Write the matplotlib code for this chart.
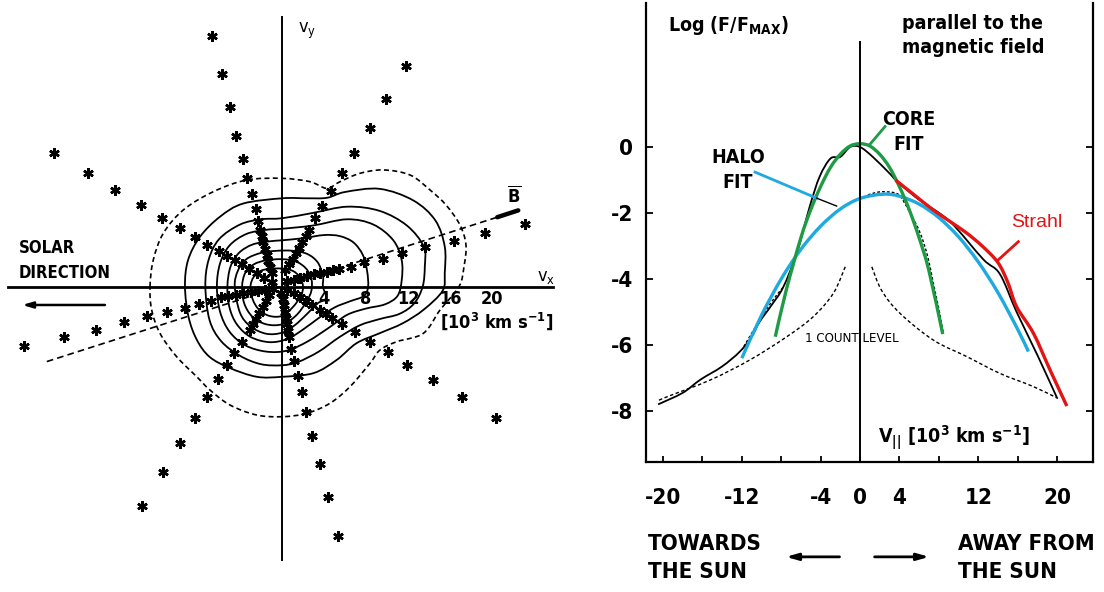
import numpy as np
import matplotlib
matplotlib.use("Agg")
import matplotlib.pyplot as plt
from matplotlib.path import Path
from matplotlib.patches import PathPatch

plt.rcParams["font.family"] = ["DejaVu Sans"]
plt.rcParams["font.stretch"] = "condensed"
plt.rcParams["font.weight"] = "bold"

# ---------------- left panel: velocity-space contours (10^3 km/s) ----------------
ray_a_x = [-6.62, -5.70, -4.91, -4.34, -3.76, -3.32, -2.88, -2.50, -2.27, -2.1, -1.95, -1.8, -1.65, -1.45, -1.3, -1.15, -1.0]
ray_a_y = [23.89, 20.21, 17.07, 14.36, 12.17, 10.36, 8.78, 7.35, 6.27, 5.4, 4.8, 4.2, 3.6, 3.0, 2.4, 1.85, 1.3]
ray_b_x = [11.85, 9.88, 8.34, 6.89, 5.70, 4.70, 3.82, 3.14, 2.60, 2.25, 1.95, 1.65, 1.35, 1.0, 0.65, 0.3]
ray_b_y = [21.03, 17.83, 15.12, 12.74, 10.84, 9.12, 7.70, 6.50, 5.38, 4.8, 4.25, 3.7, 3.15, 2.6, 2.1, 1.6]
ray_c_x = [-21.75, -18.52, -15.87, -13.42, -11.45, -9.75, -8.32, -7.13, -6.01, -5.2, -4.5, -3.8, -3.1, -2.4, -1.7, -1.0]
ray_c_y = [12.74, 10.84, 9.19, 7.76, 6.50, 5.54, 4.69, 3.95, 3.41, 2.95, 2.55, 2.1, 1.7, 1.25, 0.85, 0.45]
ray_d_x = [23.12, 19.37, 16.37, 13.62, 11.41, 9.61, 7.84, 6.54, 5.46, 4.9, 4.25, 3.6, 3.0, 2.35, 1.7, 1.1, 0.5]
ray_d_y = [6.0, 5.1, 4.36, 3.78, 3.16, 2.65, 2.3, 1.89, 1.70, 1.55, 1.4, 1.28, 1.15, 1.0, 0.8, 0.65, 0.5]
ray_e_x = [-24.54, -20.8, -17.74, -15.06, -12.81, -10.94, -9.28, -7.91, -6.79, -5.77, -5.1, -4.4, -3.7, -3.0, -2.3, -1.6, -0.9]
ray_e_y = [-5.69, -4.83, -4.14, -3.41, -2.78, -2.43, -2.02, -1.69, -1.38, -1.03, -0.9, -0.77, -0.65, -0.52, -0.42, -0.32, -0.2]
ray_f_x = [-13.32, -11.38, -9.68, -8.25, -7.13, -6.10, -5.26, -4.58, -3.83, -3.05, -2.75, -2.45, -2.15, -1.85, -1.55, -1.25]
ray_f_y = [-20.9, -17.64, -14.94, -12.5, -10.5, -8.81, -7.48, -6.31, -5.26, -4.14, -3.6, -3.05, -2.5, -1.95, -1.4, -0.85]
ray_g_x = [5.29, 4.37, 3.66, 2.90, 2.32, 1.89, 1.48, 1.10, 0.87, 0.63, 0.55, 0.45, 0.35, 0.25, 0.15, 0.05, -0.05]
ray_g_y = [-23.76, -20.02, -16.9, -14.21, -11.98, -10.08, -8.5, -7.1, -5.95, -4.78, -4.2, -3.6, -3.0, -2.4, -1.8, -1.2, -0.6]
ray_h_x = [20.42, 17.12, 14.37, 11.91, 10.05, 8.34, 6.91, 5.72, 4.77, 4.2, 3.6, 2.9, 2.3, 1.7, 1.1, 0.5]
ray_h_y = [-12.5, -10.55, -8.9, -7.48, -6.27, -5.26, -4.36, -3.6, -3.03, -2.6, -2.2, -1.8, -1.4, -1.0, -0.6, -0.3]

# outer (one count) contour, dashed
cd_x = [-12.57, -12.26, -11.3, -9.4, -6.54, -3.36, 0.0, 2.67, 4.26, 5.52, 7.43, 9.65, 12.19, 14.1, 15.62, 16.95,
        17.52, 17.33, 16.86, 15.05, 13.46, 10.92, 9.33, 8.38, 6.48, 4.57, 2.35, 0.0, -2.41, -4.95, -6.86, -8.12,
        -10.03, -11.62, -12.41]
cd_y = [-0.02, 2.52, 5.07, 7.29, 9.03, 10.14, 10.3, 9.98, 9.35, 9.98, 10.78, 11.1, 10.62, 9.19, 7.76, 5.86,
        3.95, 1.89, 0.0, -2.24, -4.46, -5.26, -6.05, -7.31, -9.54, -11.12, -12.08, -12.4, -12.24, -11.29, -9.86,
        -8.59, -6.69, -4.46, -2.24]
# solid contours, outer to inner
c1_x = [-9.24, -8.95, -7.8, -5.9, -3.7, 0.0, 2.4, 4.3, 6.0, 9.3, 12.5, 14.6, 15.5, 15.5, 15.3, 13.5, 11.5, 9.3, 7.1, 5.2, 3.0, 0.0, -2.4, -5.0, -6.9, -8.1, -8.9]
c1_y = [0.0, 2.5, 4.75, 6.65, 7.9, 8.4, 8.4, 8.45, 9.0, 9.3, 8.2, 6.3, 3.8, 1.3, -0.4, -2.2, -3.5, -4.45, -5.4, -7.0, -8.25, -8.6, -8.6, -7.75, -6.7, -5.1, -2.9]
c2_x = [-7.3, -7.0, -6.0, -4.0, -2.0, 0.0, 2.9, 6.2, 9.3, 11.9, 13.5, 13.6, 13.4, 12.6, 11.2, 9.3, 7.4, 5.5, 3.5, 1.5, 0.0, -2.0, -4.0, -5.8, -6.9]
c2_y = [0.0, 2.5, 4.5, 5.9, 6.4, 6.5, 7.0, 7.6, 7.2, 5.8, 3.8, 1.9, 0.0, -1.6, -2.6, -3.1, -3.7, -4.8, -6.2, -7.2, -7.5, -7.4, -6.6, -5.2, -3.2]
c3_x = [-6.2, -5.9, -5.0, -3.4, -1.5, 0.0, 2.9, 6.2, 8.7, 10.6, 11.4, 11.4, 11.0, 9.8, 8.0, 6.2, 4.5, 2.5, 0.5, -1.5, -3.5, -5.0, -5.9]
c3_y = [0.0, 2.2, 3.9, 5.0, 5.4, 5.5, 5.8, 6.4, 5.9, 4.4, 2.5, 0.6, -0.9, -1.7, -2.1, -2.7, -3.9, -5.2, -6.1, -6.2, -5.6, -4.3, -2.4]
c4_x = [-5.2, -4.9, -4.1, -2.8, -1.2, 0.0, 2.0, 4.0, 5.5, 6.8, 7.7, 8.1, 8.2, 7.8, 6.5, 5.0, 3.5, 2.0, 0.5, -1.2, -3.0, -4.3, -5.0]
c4_y = [0.0, 1.9, 3.2, 4.0, 4.3, 4.4, 4.6, 4.9, 4.8, 4.2, 3.0, 1.5, 0.0, -0.9, -1.4, -2.0, -3.0, -4.1, -5.0, -5.3, -4.8, -3.6, -2.0]
c5_x = [-4.5, -4.2, -3.4, -2.0, -0.5, 1.0, 2.4, 3.4, 3.9, 3.9, 4.2, 3.4, 2.4, 1.2, 0.0, -1.5, -3.0, -4.0]
c5_y = [0.0, 1.5, 2.6, 3.2, 3.4, 3.4, 3.1, 2.3, 1.0, 0.0, -1.1, -1.6, -2.6, -3.7, -4.4, -4.5, -3.8, -2.5]
c6_x = [-3.8, -3.5, -2.7, -1.5, 0.0, 1.3, 2.3, 2.8, 2.8, 2.3, 1.3, 0.0, -1.5, -2.8, -3.6]
c6_y = [0.0, 1.3, 2.1, 2.5, 2.6, 2.4, 1.7, 0.7, -0.4, -1.5, -2.8, -3.6, -3.6, -2.9, -1.6]
c7_x = [-3.0, -2.7, -2.0, -1.0, 0.0, 1.0, 1.7, 2.0, 1.8, 1.0, 0.0, -1.2, -2.2, -2.8]
c7_y = [0.0, 0.9, 1.5, 1.7, 1.7, 1.5, 0.9, 0.0, -0.9, -2.0, -2.8, -2.8, -2.2, -1.2]

vx_ticks = [4, 8, 12, 16, 20]
b_line_x = [-22.4, 20.5]
b_line_y = [-7.15, 6.6]

# ---------------- right panel: cut parallel to B ----------------
meas_v = [-20.5, -18.0, -16.2, -14.0, -12.2, -11.0, -10.2, -9.0, -7.8, -6.4, -5.1, -4.1, -3.0, -2.0, -1.0, 0.0, 1.3, 3.0, 3.8, 6.0, 9.1, 12.5, 14.2, 15.9, 18.0, 20.0]
meas_f = [-7.8, -7.45, -7.05, -6.65, -6.2, -5.75, -5.3, -4.8, -4.25, -3.2, -1.8, -0.9, -0.35, -0.3, 0.0, 0.0, -0.3, -0.8, -1.05, -1.6, -2.25, -3.4, -3.85, -5.0, -6.3, -7.6]
meas2_v = [0.8, 2.0, 3.4, 4.1, 5.0, 6.1, 6.9, 7.44, 8.0, 8.46]
meas2_f = [-1.45, -1.36, -1.38, -1.5, -1.95, -2.6, -3.35, -4.13, -4.9, -5.65]
meas3_v = [-11.8, -10.3, -9.0, -7.8]
meas3_f = [-6.05, -5.3, -4.7, -4.25]
count_left_v = [-1.5, -2.7, -4.74, -7.44, -11.17, -15.2, -19.6, -20.5]
count_left_f = [-3.63, -4.43, -5.14, -5.75, -6.45, -7.06, -7.57, -7.69]
count_right_v = [1.2, 2.2, 4.06, 7.44, 10.83, 14.2, 17.6, 20.1]
count_right_f = [-3.63, -4.35, -5.04, -5.85, -6.35, -6.86, -7.26, -7.62]
core_v = [-8.6, -7.5, -6.0, -5.0, -4.0, -3.0, -2.0, -1.0, 0.0, 1.0, 2.0, 3.0, 4.0, 5.0, 6.0, 7.0, 8.4]
core_f = [-5.75, -4.35, -2.75, -1.9, -1.2, -0.62, -0.22, 0.03, 0.1, 0.03, -0.22, -0.62, -1.2, -1.9, -2.75, -3.75, -5.67]
halo_v = [-12.0, -10.0, -8.0, -6.0, -4.0, -2.0, 0.0, 2.3, 4.0, 6.0, 8.0, 10.0, 12.0, 14.0, 16.0, 17.1]
halo_f = [-6.4, -5.1, -4.0, -3.1, -2.4, -1.88, -1.56, -1.43, -1.49, -1.73, -2.14, -2.72, -3.48, -4.41, -5.52, -6.2]
strahl_v = [3.6, 5.5, 7.4, 9.1, 10.8, 12.4, 14.0, 15.0, 15.9, 17.6, 19.3, 21.0]
strahl_f = [-1.0, -1.45, -1.9, -2.25, -2.6, -3.0, -3.5, -4.1, -4.84, -5.64, -6.76, -7.85]

v_ticks = [-20, -16, -12, -8, -4, 0, 4, 8, 12, 16, 20]
v_ticklabels = ["-20", "", "-12", "", "-4", "0", "4", "", "12", "", "20"]
f_ticks = [0, -2, -4, -6, -8]
f_ticklabels = ["0", "-2", "-4", "-6", "-8"]

GREEN = "#1f9a45"
BLUE = "#1ea9e1"
RED = "#e31414"


def curve(ax, xs, ys, closed=False, **kw):
    # smooth Bezier through the read points (Catmull-Rom control points)
    p = np.column_stack([xs, ys]).astype(float)
    if closed:
        pts = np.vstack([p[-1], p, p[0], p[1]])
    else:
        pts = np.vstack([p[0], p, p[-1]])
    verts = [pts[1]]
    codes = [Path.MOVETO]
    for i in range(1, len(pts) - 2):
        p0, p1, p2, p3 = pts[i - 1], pts[i], pts[i + 1], pts[i + 2]
        verts += [p1 + (p2 - p0) / 6, p2 - (p3 - p1) / 6, p2]
        codes += [Path.CURVE4] * 3
    ax.add_patch(PathPatch(Path(verts, codes), fill=False, **kw))


fig = plt.figure(figsize=(11.04, 5.92), dpi=100)

# left panel, 10.5 px per unit, origin at (282, 286.5) px
ax1 = fig.add_axes([0, 0, 560 / 1104, 1])
ax1.set_xlim(-282 / 10.5, (560 - 282) / 10.5)
ax1.set_ylim(-(592 - 286.5) / 10.5, 286.5 / 10.5)
ax1.axis("off")

ax1.plot([-26.1, 25.8], [0, 0], color="black", lw=2.0)
ax1.plot([0, 0], [-26.0, 25.7], color="black", lw=1.4)
ax1.plot(b_line_x, b_line_y, color="black", lw=1.2, ls=(0, (4, 2.5)))
ax1.plot([20.5, 22.5], [6.6, 7.25], color="black", lw=3.2, solid_capstyle="round")

curve(ax1, cd_x, cd_y, closed=True, color="black", lw=1.2, ls=(0, (3, 2)))
for cx, cy in [(c1_x, c1_y), (c2_x, c2_y), (c3_x, c3_y), (c4_x, c4_y),
               (c5_x, c5_y), (c6_x, c6_y), (c7_x, c7_y)]:
    curve(ax1, cx, cy, closed=True, color="black", lw=1.3)

for rx, ry in [(ray_a_x, ray_a_y), (ray_b_x, ray_b_y), (ray_c_x, ray_c_y), (ray_d_x, ray_d_y),
               (ray_e_x, ray_e_y), (ray_f_x, ray_f_y), (ray_g_x, ray_g_y), (ray_h_x, ray_h_y)]:
    ax1.plot(rx, ry, ls="none", marker=(6, 2, 0), ms=7.5, mew=1.8, color="black")

for t in vx_ticks:
    ax1.text(t, -1.15, str(t), ha="center", va="center", fontsize=13)
ax1.text(1.5, 24.3, r"v$_\mathregular{y}$", fontsize=13, ha="left", va="center", weight="normal")
ax1.text(24.3, 0.95, r"v$_\mathregular{x}$", fontsize=13, ha="left", va="center", weight="normal")
ax1.text(22.1, 8.6, r"$\overline{\mathbf{B}}$", fontsize=13, ha="center", va="center")
ax1.text(20.4, -3.35, r"[10$^\mathbf{3}$ km s$^\mathbf{-1}$]", fontsize=13, ha="center", va="center")
ax1.text(-25.1, 3.64, "SOLAR", fontsize=12, ha="left", va="center")
ax1.text(-25.1, 1.26, "DIRECTION", fontsize=12, ha="left", va="center")
ax1.annotate("", xy=(-25.0, -1.76), xytext=(-16.6, -1.76),
             arrowprops=dict(arrowstyle="-|>,head_length=0.6,head_width=0.18", color="black", lw=1.8))

# right panel
ax2 = fig.add_axes([645.7 / 1104, (592 - 461.7) / 592, (1092.7 - 645.7) / 1104, (461.7 - 3.3) / 592])
ax2.set_xlim((645.7 - 860) / 9.85, (1092.7 - 860) / 9.85)
ax2.set_ylim((147 - 461.7) / 33, (147 - 3.3) / 33)
ax2.patch.set_alpha(0)
ax2.spines["top"].set_visible(False)
for s in ["left", "right", "bottom"]:
    ax2.spines[s].set_linewidth(1.6)
ax2.set_xticks(v_ticks)
ax2.set_xticklabels(v_ticklabels)
ax2.set_yticks(f_ticks)
ax2.set_yticklabels(f_ticklabels)
ax2.tick_params(axis="x", direction="in", length=4, width=1.3, pad=19, labelsize=16)
ax2.tick_params(axis="y", direction="in", length=5, width=1.3, pad=9, labelsize=16, left=True, right=True)

ax2.plot([0, 0], [3.17, -9.54], color="black", lw=1.4)
curve(ax2, count_left_v, count_left_f, color="black", lw=1.0, ls=(0, (2.5, 1.8)))
curve(ax2, count_right_v, count_right_f, color="black", lw=1.0, ls=(0, (2.5, 1.8)))
curve(ax2, meas2_v, meas2_f, color="black", lw=1.0, ls=(0, (2, 1.5)))
curve(ax2, meas3_v, meas3_f, color="black", lw=1.0, ls=(0, (2, 1.5)))
curve(ax2, meas_v, meas_f, color="black", lw=1.3)
curve(ax2, halo_v, halo_f, color=BLUE, lw=2.4)
curve(ax2, core_v, core_f, color=GREEN, lw=2.4)
curve(ax2, strahl_v, strahl_f, color=RED, lw=2.4)

# leader lines
ax2.plot([-10.66, -4.4], [-0.76, -1.55], color=BLUE, lw=2.0)
ax2.plot([-4.4, -2.37], [-1.55, -1.79], color="black", lw=1.0)
ax2.plot([2.54, 0.95], [0.62, 0.06], color=GREEN, lw=2.0)
ax2.plot([16.07, 14.04], [-2.87, -3.42], color=RED, lw=2.0)

ax2.text(-19.49, 3.67, r"Log (F/F$_\mathbf{MAX}$)", fontsize=14, ha="left", va="center")
ax2.text(4.23, 3.74, "parallel to the", fontsize=14, ha="left", va="center")
ax2.text(4.23, 3.03, "magnetic field", fontsize=14, ha="left", va="center")
ax2.text(4.9, 0.83, "CORE", fontsize=14, ha="center", va="center")
ax2.text(4.9, 0.08, "FIT", fontsize=14, ha="center", va="center")
ax2.text(-12.4, -0.32, "HALO", fontsize=14, ha="center", va="center")
ax2.text(-12.4, -1.08, "FIT", fontsize=14, ha="center", va="center")
ax2.text(15.3, -2.29, "Strahl", fontsize=14, ha="left", va="center", color=RED,
         family="Liberation Sans", weight="normal", stretch="normal")
ax2.text(-5.6, -5.79, "1 COUNT LEVEL", fontsize=9.5, ha="left", va="center", weight="normal")
ax2.text(1.83, -8.79, r"V$_\mathbf{||}$ [10$^\mathbf{3}$ km s$^\mathbf{-1}$]", fontsize=14, ha="left", va="center")
ax2.text(-21.5, -12.03, "TOWARDS", fontsize=16, ha="left", va="center", clip_on=False)
ax2.text(-21.5, -12.88, "THE SUN", fontsize=16, ha="left", va="center", clip_on=False)
ax2.text(9.95, -12.03, "AWAY FROM", fontsize=16, ha="left", va="center", clip_on=False)
ax2.text(9.95, -12.88, "THE SUN", fontsize=16, ha="left", va="center", clip_on=False)
ax2.annotate("", xy=(-7.8, -12.42), xytext=(-1.8, -12.42), annotation_clip=False,
             arrowprops=dict(arrowstyle="-|>,head_length=0.7,head_width=0.2", color="black", lw=2.0))
ax2.annotate("", xy=(7.3, -12.42), xytext=(1.2, -12.42), annotation_clip=False,
             arrowprops=dict(arrowstyle="-|>,head_length=0.7,head_width=0.2", color="black", lw=2.0))

fig.savefig("out.png", dpi=100)
